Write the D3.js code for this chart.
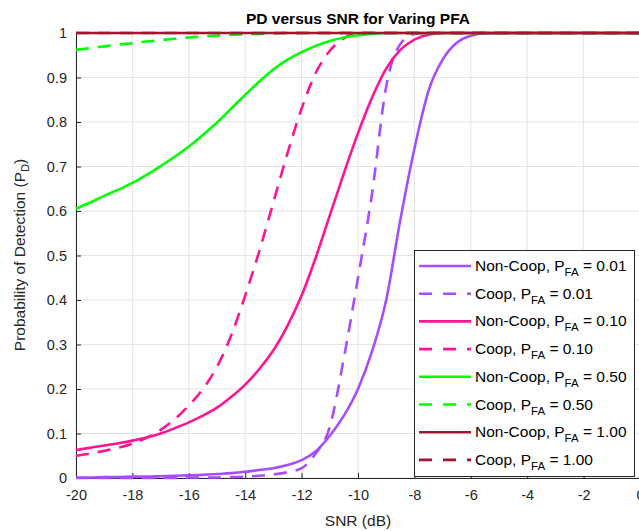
<!DOCTYPE html>
<html><head><meta charset="utf-8">
<script src="https://cdn.jsdelivr.net/npm/d3@7"></script>
<style>html,body{margin:0;padding:0;background:#fff;overflow:hidden}svg{display:block;font-family:"Liberation Sans",Arial,Helvetica,sans-serif}</style>
</head><body><svg id="c" width="639" height="531"></svg>
<script>
const snr = [-20,-19.5,-19,-18.5,-18,-17.5,-17,-16.5,-16,-15.5,-15,-14.5,-14,-13.5,-13,-12.5,-12,-11.5,-11,-10.5,-10,-9.5,-9,-8.5,-8,-7.5,-7,-6.5,-6,-5.5,-5,-4.5,-4,-3.5,-3,-2.5,-2,-1.5,-1,-0.5,0];
const pdNonCoop001 = [0.001,0.001,0.002,0.002,0.003,0.003,0.004,0.005,0.006,0.007,0.009,0.011,0.014,0.018,0.022,0.029,0.04,0.06,0.095,0.14,0.2,0.285,0.4,0.58,0.74,0.87,0.94,0.978,0.994,0.999,1,1,1,1,1,1,1,1,1,1,1];
const pdCoop001 = [0,0,0,0,0,0,0,0,0.001,0.001,0.001,0.002,0.003,0.005,0.008,0.013,0.022,0.055,0.115,0.27,0.45,0.64,0.88,0.975,0.998,1,1,1,1,1,1,1,1,1,1,1,1,1,1,1,1];
const pdNonCoop010 = [0.063,0.068,0.073,0.078,0.084,0.091,0.1,0.112,0.125,0.14,0.158,0.182,0.21,0.245,0.287,0.342,0.41,0.495,0.59,0.685,0.775,0.855,0.92,0.962,0.985,0.996,1,1,1,1,1,1,1,1,1,1,1,1,1,1,1];
const pdCoop010 = [0.05,0.055,0.061,0.068,0.077,0.09,0.108,0.132,0.163,0.2,0.25,0.32,0.41,0.51,0.62,0.73,0.83,0.91,0.96,0.988,1,1,1,1,1,1,1,1,1,1,1,1,1,1,1,1,1,1,1,1,1];
const pdNonCoop050 = [0.605,0.619,0.634,0.648,0.663,0.681,0.701,0.722,0.745,0.771,0.799,0.83,0.861,0.891,0.918,0.94,0.957,0.971,0.982,0.99,0.995,0.998,1,1,1,1,1,1,1,1,1,1,1,1,1,1,1,1,1,1,1];
const pdCoop050 = [0.962,0.966,0.97,0.974,0.977,0.981,0.984,0.987,0.99,0.992,0.994,0.996,0.997,0.998,0.999,1,1,1,1,1,1,1,1,1,1,1,1,1,1,1,1,1,1,1,1,1,1,1,1,1,1];
const pdNonCoop100 = [1,1,1,1,1,1,1,1,1,1,1,1,1,1,1,1,1,1,1,1,1,1,1,1,1,1,1,1,1,1,1,1,1,1,1,1,1,1,1,1,1];
const pdCoop100 = [1,1,1,1,1,1,1,1,1,1,1,1,1,1,1,1,1,1,1,1,1,1,1,1,1,1,1,1,1,1,1,1,1,1,1,1,1,1,1,1,1];
const seriesNames = ["Non-Coop","Coop","Non-Coop","Coop","Non-Coop","Coop","Non-Coop","Coop"];
const seriesPfa = ["0.01","0.01","0.10","0.10","0.50","0.50","1.00","1.00"];
const seriesColors = ["#a64dff","#a64dff","#ff1493","#ff1493","#00ff00","#00ff00","#a2142f","#a2142f"];
const seriesDashed = [false,true,false,true,false,true,false,true];
const seriesValues = [pdNonCoop001,pdCoop001,pdNonCoop010,pdCoop010,pdNonCoop050,pdCoop050,pdNonCoop100,pdCoop100];
const xTicks = [-20,-18,-16,-14,-12,-10,-8,-6,-4,-2,0];
const yTicks = [0,0.1,0.2,0.3,0.4,0.5,0.6,0.7,0.8,0.9,1];
const yTickLabels = ["0","0.1","0.2","0.3","0.4","0.5","0.6","0.7","0.8","0.9","1"];

const svg = d3.select("#c");
const L=76, R=640, T=33, B=478;
const x = d3.scaleLinear().domain([-20,0]).range([L,R]);
const y = d3.scaleLinear().domain([0,1]).range([B,T]);

// grid
const g = svg.append("g");
g.selectAll("line.gx").data(xTicks).join("line").attr("x1",d=>x(d)).attr("x2",d=>x(d)).attr("y1",T).attr("y2",B).attr("stroke","#e3e3e3").attr("stroke-width",1);
g.selectAll("line.gy").data(yTicks).join("line").attr("y1",d=>y(d)).attr("y2",d=>y(d)).attr("x1",L).attr("x2",R).attr("stroke","#e3e3e3").attr("stroke-width",1);

// axes
const xa = svg.append("g").attr("transform",`translate(0,${B})`).call(d3.axisBottom(x).tickValues(xTicks).tickSize(-5).tickPadding(12).tickFormat(d=>String(d)));
const ya = svg.append("g").attr("transform",`translate(${L},0)`).call(d3.axisLeft(y).tickValues(yTicks).tickSize(-5).tickPadding(9).tickFormat((d,i)=>yTickLabels[i]));
[xa,ya].forEach(a=>{a.selectAll("path,line").attr("stroke","#262626");a.selectAll("text").attr("fill","#262626").style("font-size","14.5px").style("font-family","'Liberation Sans',Arial,sans-serif");});
xa.select("path.domain").attr("d",`M${L},0.5H${R}`);
ya.select("path.domain").attr("d",`M0.5,${B}V${T}`);

// lines
const line = d3.line().curve(d3.curveMonotoneX);
seriesValues.forEach((vals,i)=>{
  svg.append("path").attr("d",line(snr.map((s,j)=>[x(s),y(vals[j])])))
    .attr("fill","none").attr("stroke",seriesColors[i]).attr("stroke-width",2.6)
    .attr("stroke-dasharray",seriesDashed[i]?"13,9":null);
});

// title and labels
svg.append("text").attr("x",(L+R)/2).attr("y",24).attr("text-anchor","middle").style("font-size","15.5px").style("font-weight","bold").attr("fill","#000").text("PD versus SNR for Varing PFA");
svg.append("text").attr("x",(L+R)/2).attr("y",526).attr("text-anchor","middle").style("font-size","15.5px").attr("fill","#262626").text("SNR (dB)");
const yl = svg.append("text").attr("transform","translate(25,255) rotate(-90)").attr("text-anchor","middle").style("font-size","15.5px").attr("fill","#262626");
yl.append("tspan").text("Probability of Detection (P");
yl.append("tspan").attr("dy",4).style("font-size","11px").text("D");
yl.append("tspan").attr("dy",-4).text(")");

// legend
const lg = svg.append("g");
lg.append("rect").attr("x",414.5).attr("y",250.5).attr("width",220).attr("height",226).attr("fill","#fff").attr("stroke","#262626").attr("stroke-width",1);
seriesNames.forEach((n,i)=>{
  const yy = 266 + i*27.7;
  lg.append("line").attr("x1",419).attr("x2",471).attr("y1",yy).attr("y2",yy).attr("stroke",seriesColors[i]).attr("stroke-width",2.6).attr("stroke-dasharray",seriesDashed[i]?"13,11":null);
  const t = lg.append("text").attr("x",475).attr("y",yy+5).style("font-size","15.5px").attr("fill","#000");
  t.append("tspan").text(n+", P");
  t.append("tspan").attr("dy",5).style("font-size","11.5px").text("FA");
  t.append("tspan").attr("dy",-5).text(" = "+seriesPfa[i]);
});
</script></body></html>
